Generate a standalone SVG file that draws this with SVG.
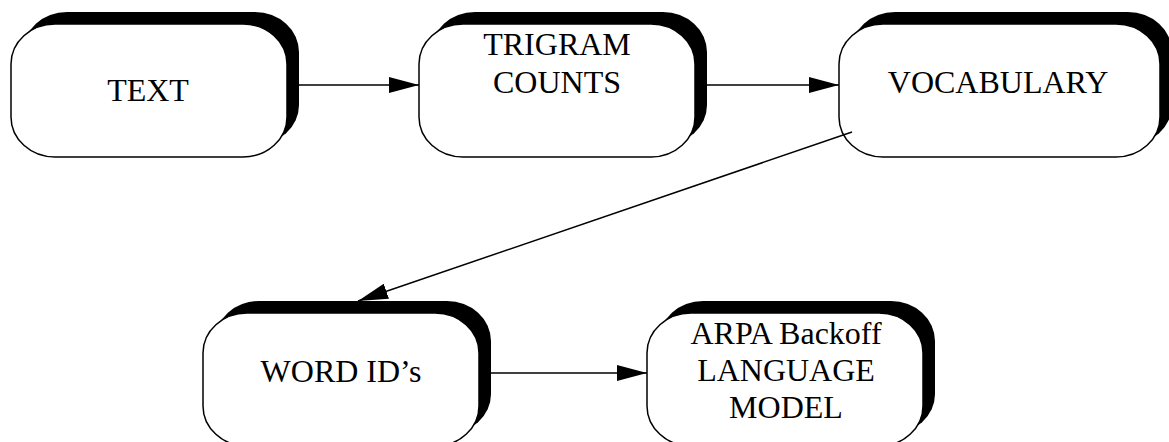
<svg xmlns="http://www.w3.org/2000/svg" width="1169" height="442" viewBox="0 0 1169 442">
  <style>
    .shadow { fill: #000; stroke: none; }
    .box { fill: #fff; stroke: #000; stroke-width: 1.5; }
    .label { font-family: "Liberation Serif", "Times New Roman", serif; font-size: 32px; fill: #000; text-anchor: middle; }
    .edge { fill: none; stroke: #000; stroke-width: 1.5; }
  </style>
  <defs>
    <marker id="arrow" viewBox="0 0 30 16" refX="30" refY="8" markerWidth="30" markerHeight="16" markerUnits="userSpaceOnUse" orient="auto">
      <path d="M0,0 L30,8 L0,16 Z" fill="#000"/>
    </marker>
  </defs>

  <g id="node-text">
    <rect class="shadow" x="23" y="12" width="276" height="133" rx="44" ry="40"/>
    <rect class="box" x="11" y="24" width="276" height="133" rx="44" ry="40"/>
    <text class="label" x="148" y="101">TEXT</text>
  </g>

  <g id="node-trigram">
    <rect class="shadow" x="431" y="12" width="276" height="133" rx="44" ry="40"/>
    <rect class="box" x="419" y="24" width="276" height="133" rx="44" ry="40"/>
    <text class="label" x="557" y="55">TRIGRAM</text>
    <text class="label" x="557" y="93">COUNTS</text>
  </g>

  <g id="node-vocabulary">
    <rect class="shadow" x="851" y="12" width="321" height="133" rx="44" ry="40"/>
    <rect class="box" x="839" y="24" width="321" height="133" rx="44" ry="40"/>
    <text class="label" x="998" y="93">VOCABULARY</text>
  </g>

  <g id="node-wordids">
    <rect class="shadow" x="215" y="301" width="276" height="133" rx="44" ry="40"/>
    <rect class="box" x="203" y="313" width="276" height="133" rx="44" ry="40"/>
    <text class="label" x="341" y="382">WORD ID’s</text>
  </g>

  <g id="node-arpa">
    <rect class="shadow" x="659" y="301" width="276" height="133" rx="44" ry="40"/>
    <rect class="box" x="647" y="313" width="276" height="133" rx="44" ry="40"/>
    <text class="label" x="786" y="344">ARPA Backoff</text>
    <text class="label" x="786" y="381">LANGUAGE</text>
    <text class="label" x="786" y="418">MODEL</text>
  </g>

  <g id="connectors">
    <line class="edge" x1="299" y1="85" x2="419" y2="85" marker-end="url(#arrow)"/>
    <line class="edge" x1="707" y1="85" x2="839" y2="85" marker-end="url(#arrow)"/>
    <line class="edge" x1="852" y1="132" x2="358" y2="301" marker-end="url(#arrow)"/>
    <line class="edge" x1="491" y1="373" x2="647" y2="373" marker-end="url(#arrow)"/>
  </g>
</svg>
